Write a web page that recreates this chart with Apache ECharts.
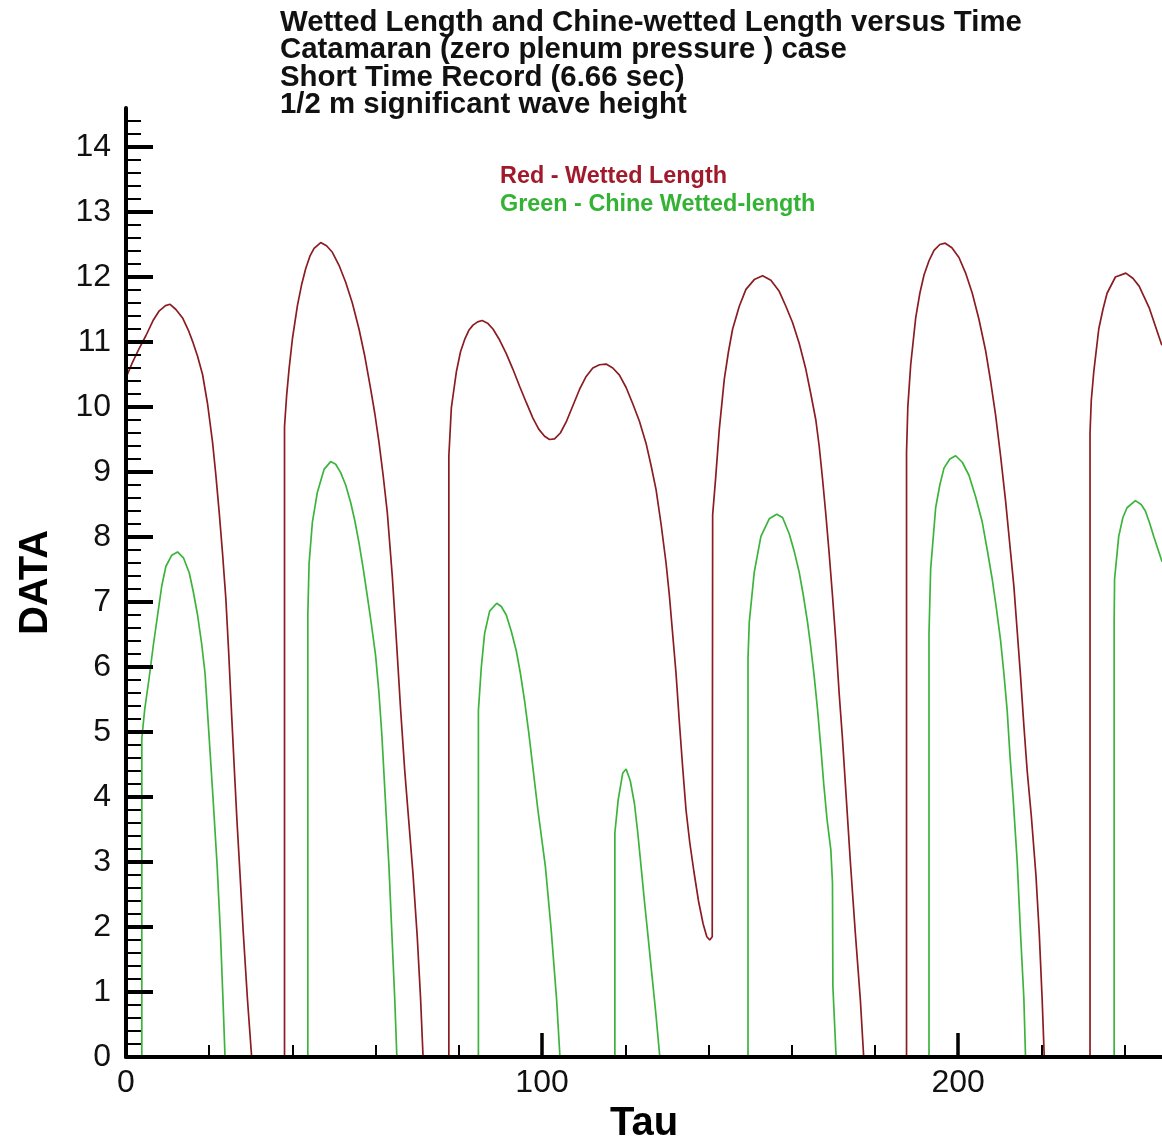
<!DOCTYPE html>
<html>
<head>
<meta charset="utf-8">
<title>Wetted Length and Chine-wetted Length versus Time</title>
<script src="https://cdn.jsdelivr.net/npm/echarts@6/dist/echarts.min.js"></script>
<style>
  html, body { margin: 0; padding: 0; background: #ffffff; }
  #chart { width: 1162px; height: 1142px; }
</style>
</head>
<body>
<div id="chart"></div>
<script>
// Title block
const titleLines = [
  'Wetted Length and Chine-wetted Length versus Time',
  'Catamaran (zero plenum pressure ) case',
  'Short Time Record (6.66 sec)',
  '1/2 m significant wave height'
];
const legendRed = 'Red - Wetted Length';
const legendGreen = 'Green - Chine Wetted-length';

// Axis ticks and labels
const xMajorTicks = [0, 100, 200];
const xMinorTicks = [20, 40, 60, 80, 120, 140, 160, 180, 220, 240];
const yMajorTicks = [0, 1, 2, 3, 4, 5, 6, 7, 8, 9, 10, 11, 12, 13, 14];
const xRange = [0, 249];
const yRange = [0, 14.6];

// Wetted length, [tau, value]
const wettedLength = [
  [0, 10.45], [1.5, 10.68], [3, 10.88], [4.8, 11.1], [6.5, 11.33], [8, 11.48], [9.5, 11.56],
  [10.6, 11.58], [12, 11.5], [13.6, 11.37], [15, 11.18], [16, 11.01], [17.2, 10.78], [18.4, 10.5],
  [19.6, 10.05], [20.8, 9.46], [21.6, 8.95], [22.4, 8.38], [23.2, 7.75], [24, 7.05], [24.7, 6.2],
  [25.4, 5.25], [26.1, 4.35], [26.7, 3.6], [27.3, 2.93], [28.2, 1.9], [29.2, 0.88], [30.2, 0],
  [38.1, 0], [38.1, 9.7], [38.6, 10.17], [39.2, 10.59], [40, 11.05], [41.2, 11.56], [42.2, 11.88],
  [43.2, 12.13], [44.2, 12.32], [45.2, 12.44], [46.8, 12.53], [48.2, 12.48], [49.6, 12.38],
  [51.2, 12.18], [52.8, 11.92], [54.4, 11.6], [56, 11.2], [57.4, 10.78], [58.8, 10.28], [59.8, 9.9],
  [60.8, 9.46], [61.8, 8.95], [62.8, 8.38], [64, 7.4], [65, 6.4], [66, 5.35], [67, 4.4], [68, 3.6],
  [69, 2.8], [70, 1.85], [70.8, 0.9], [71.4, 0],
  [77.6, 0], [77.6, 9.25], [78.2, 9.99], [79.4, 10.54], [80.4, 10.85], [81.4, 11.04], [82.4, 11.18],
  [83.4, 11.26], [84.5, 11.31], [85.6, 11.33], [86.9, 11.29], [88.2, 11.2], [89.8, 11.03],
  [91.4, 10.82], [93, 10.58], [94.6, 10.32], [96.2, 10.07], [97.8, 9.83], [99.2, 9.66], [100.6, 9.55],
  [101.8, 9.5], [103, 9.51], [104.4, 9.6], [105.8, 9.77], [107.4, 10.02], [109, 10.27], [110.6, 10.47],
  [112.2, 10.6], [113.8, 10.65], [115.4, 10.66], [117, 10.6], [118.6, 10.49], [120.2, 10.3],
  [121.8, 10.05], [123.4, 9.78], [125, 9.44], [126.2, 9.1], [127.4, 8.73], [128.6, 8.2], [129.8, 7.6],
  [130.6, 7.1], [131.4, 6.5], [132.2, 5.9], [133, 5.15], [133.8, 4.45], [134.6, 3.8], [135.5, 3.3],
  [136.5, 2.85], [137.6, 2.4], [138.7, 2.05], [139.6, 1.85], [140.3, 1.8], [140.9, 1.85],
  [141, 8.34], [141.7, 8.89], [142.6, 9.66], [143.8, 10.43], [144.8, 10.85], [145.8, 11.2],
  [147.4, 11.55], [149, 11.81], [151, 11.96], [153, 12.02], [155, 11.95], [157, 11.78], [158.6, 11.55],
  [160.2, 11.3], [161.8, 10.98], [163.4, 10.58], [164.6, 10.2], [165.8, 9.8], [166.6, 9.4],
  [167.4, 8.9], [168.2, 8.35], [169, 7.75], [169.8, 7.1], [170.6, 6.4], [171.4, 5.6], [172.2, 4.9],
  [173.1, 4.0], [174.1, 3.0], [175.3, 1.9], [176.5, 0.88], [177.3, 0],
  [187.6, 0], [187.6, 9.3], [187.9, 9.99], [188.6, 10.65], [189.8, 11.37], [190.8, 11.75],
  [191.8, 12.03], [193, 12.25], [194.2, 12.41], [195.6, 12.5], [196.9, 12.52], [198.5, 12.45],
  [200.2, 12.3], [201.8, 12.06], [203.4, 11.75], [205, 11.35], [206.6, 10.87], [207.8, 10.4],
  [209, 9.88], [210.2, 9.25], [211.4, 8.56], [212.4, 7.9], [213.4, 7.24], [214.2, 6.55], [215, 5.86],
  [215.8, 5.1], [216.6, 4.4], [217.6, 3.7], [218.7, 2.8], [219.5, 1.9], [220.2, 0.88], [220.7, 0],
  [231.7, 0], [231.7, 9.6], [232, 10.1], [232.6, 10.54], [233.8, 11.2], [234.8, 11.5], [235.8, 11.75],
  [237.8, 12.0], [240.3, 12.06], [242, 11.98], [243.5, 11.86], [245.9, 11.53], [248.8, 10.98],
  [249, 10.95]
];

// Chine wetted length, [tau, value]
const chineWettedLength = [
  [0, 0], [3.8, 0], [3.8, 4.9], [4.5, 5.35], [5.6, 5.85], [6.6, 6.35], [7.6, 6.8], [8.6, 7.25],
  [9.6, 7.55], [11, 7.72], [12.4, 7.77], [13.8, 7.68], [15.2, 7.45], [16.2, 7.15], [17.2, 6.8],
  [18.2, 6.35], [19, 5.9], [19.9, 5.0], [20.9, 4.0], [21.9, 2.95], [22.7, 1.9], [23.3, 0.9], [23.8, 0],
  [43.7, 0], [43.7, 6.8], [44, 7.59], [44.8, 8.23], [46, 8.69], [47.6, 9.04], [49.2, 9.16],
  [50.4, 9.12], [51.6, 8.99], [52.8, 8.8], [54, 8.53], [55, 8.25], [56, 7.91], [57, 7.52], [58, 7.09],
  [59, 6.65], [60, 6.17], [60.8, 5.6], [61.5, 4.95], [62.3, 4.0], [63.2, 2.93], [63.9, 1.9],
  [64.6, 0.88], [65.1, 0],
  [84.7, 0], [84.7, 5.33], [85.4, 6.0], [86.2, 6.52], [87.4, 6.86], [89.1, 6.98], [90.2, 6.93],
  [91.4, 6.8], [92.6, 6.55], [93.8, 6.25], [94.8, 5.9], [95.8, 5.48], [96.8, 4.99], [97.8, 4.45],
  [99, 3.8], [100.8, 2.93], [102.2, 1.95], [103.5, 0.88], [104.3, 0],
  [117.5, 0], [117.5, 3.45], [118.3, 3.96], [119.4, 4.37], [120.2, 4.43], [121.2, 4.25], [122.2, 3.9],
  [123, 3.45], [123.8, 2.93], [124.6, 2.4], [125.4, 1.9], [126.2, 1.39], [127.3, 0.7], [128.3, 0],
  [149.5, 0], [149.5, 6.14], [149.8, 6.69], [151, 7.46], [152.6, 8.01], [154.6, 8.28], [156.4, 8.35],
  [157.8, 8.3], [159.4, 8.05], [160.6, 7.78], [161.8, 7.46], [162.8, 7.1], [163.8, 6.69], [164.6, 6.3],
  [165.4, 5.86], [166.2, 5.35], [167, 4.76], [167.7, 4.2], [168.5, 3.65], [169.4, 3.19], [169.8, 2.68],
  [169.9, 1.08], [170.6, 0.1], [170.7, 0],
  [193, 0], [193, 6.52], [193.4, 7.51], [194.6, 8.45], [195.6, 8.8], [196.6, 9.06], [198, 9.2],
  [199.4, 9.25], [201, 9.15], [202.6, 8.95], [204.2, 8.62], [205.8, 8.23], [207, 7.8], [208.2, 7.35],
  [209.2, 6.9], [210.2, 6.41], [211, 5.9], [211.8, 5.32], [212.5, 4.6], [213.2, 4.0], [214.2, 3.0],
  [215, 1.9], [215.8, 0.9], [216.2, 0],
  [237.5, 0], [237.5, 6.69], [237.6, 7.35], [238.6, 8.01], [239.6, 8.3], [240.6, 8.45], [242.6, 8.56],
  [244, 8.5], [245, 8.4], [246, 8.22], [247, 8.01], [248.7, 7.68], [249, 7.62]
];

// Minor y ticks every 0.2 between the integer ticks
const yMinorTicks = [];
for (let i = 1; i < yRange[1] * 5; i++) {
  if (i % 5 !== 0) yMinorTicks.push(+(i / 5).toFixed(1));
}

const FONT = "'Liberation Sans', Arial, Helvetica, sans-serif";
const RED_LINE = '#8b1c22';
const GREEN_LINE = '#3cb43c';

const chart = echarts.init(document.getElementById('chart'), null, { renderer: 'canvas' });

const baseX = {
  type: 'value', min: xRange[0], max: xRange[1], position: 'bottom', z: 5,
  splitLine: { show: false }
};
const baseY = {
  type: 'value', min: yRange[0], max: yRange[1], position: 'left', z: 5,
  splitLine: { show: false }
};

chart.setOption({
  animation: false,
  backgroundColor: '#ffffff',
  title: [
    {
      text: titleLines.join('\n'), left: 280, top: 9, padding: 0,
      textStyle: { fontFamily: FONT, fontSize: 29.4, fontWeight: 'bold', color: '#111', lineHeight: 27.5 }
    },
    {
      text: legendRed, left: 500, top: 164, padding: 0,
      textStyle: { fontFamily: FONT, fontSize: 23.4, fontWeight: 'bold', color: '#a01a2c', lineHeight: 26 }
    },
    {
      text: legendGreen, left: 500, top: 192, padding: 0,
      textStyle: { fontFamily: FONT, fontSize: 23.4, fontWeight: 'bold', color: '#33b333', lineHeight: 26 }
    }
  ],
  grid: { left: 126, right: 0, top: 108, bottom: 85, containLabel: false, outerBoundsMode: 'none' },
  xAxis: [
    Object.assign({}, baseX, {
      name: 'Tau', nameLocation: 'middle', nameGap: 43,
      nameTextStyle: { fontFamily: FONT, fontSize: 40, fontWeight: 'bold', color: '#000' },
      axisLine: { show: true, onZero: false, lineStyle: { color: '#000', width: 4 } },
      axisTick: { show: true, inside: true, length: 24, customValues: xMajorTicks,
        lineStyle: { color: '#000', width: 3.5 } },
      axisLabel: { show: true, customValues: xMajorTicks, margin: 10,
        fontFamily: FONT, fontSize: 32, color: '#111' }
    }),
    Object.assign({}, baseX, {
      axisLine: { show: false },
      axisTick: { show: true, inside: true, length: 12, customValues: xMinorTicks,
        lineStyle: { color: '#000', width: 2 } },
      axisLabel: { show: false }
    })
  ],
  yAxis: [
    Object.assign({}, baseY, {
      name: 'DATA', nameLocation: 'middle', nameGap: 70, nameRotate: 90,
      nameTextStyle: { fontFamily: FONT, fontSize: 40, fontWeight: 'bold', color: '#000' },
      axisLine: { show: true, onZero: false, lineStyle: { color: '#000', width: 4 } },
      axisTick: { show: true, inside: true, length: 27, customValues: yMajorTicks,
        lineStyle: { color: '#000', width: 4 } },
      axisLabel: { show: true, customValues: yMajorTicks, margin: 15,
        fontFamily: FONT, fontSize: 32, color: '#111' }
    }),
    Object.assign({}, baseY, {
      axisLine: { show: false },
      axisTick: { show: true, inside: true, length: 15, customValues: yMinorTicks,
        lineStyle: { color: '#000', width: 2 } },
      axisLabel: { show: false }
    })
  ],
  series: [
    {
      name: 'Wetted Length', type: 'line', xAxisIndex: 0, yAxisIndex: 0,
      data: wettedLength, showSymbol: false, smooth: false,
      lineStyle: { color: RED_LINE, width: 1.7 }, z: 2
    },
    {
      name: 'Chine Wetted-length', type: 'line', xAxisIndex: 0, yAxisIndex: 0,
      data: chineWettedLength, showSymbol: false, smooth: false,
      lineStyle: { color: GREEN_LINE, width: 1.7 }, z: 2
    }
  ]
});
</script>
</body>
</html>
